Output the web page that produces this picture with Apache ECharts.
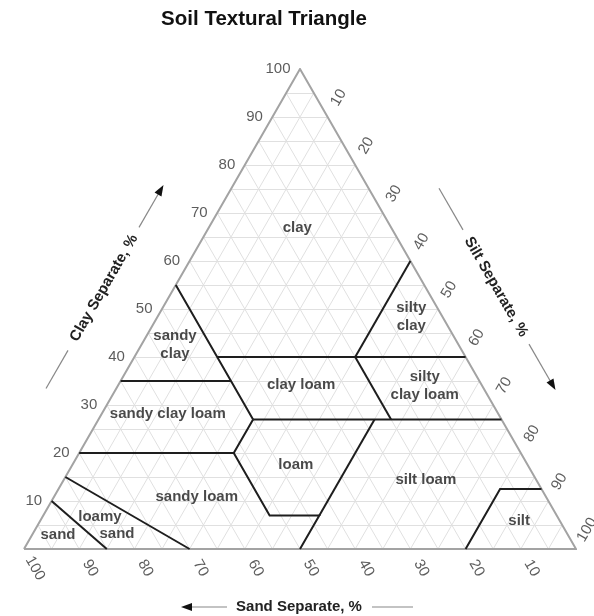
<!DOCTYPE html>
<html><head><meta charset="utf-8">
<script src="https://cdn.jsdelivr.net/npm/echarts@6/dist/echarts.min.js"></script>
<style>html,body{margin:0;padding:0;background:#fff}#c{width:594px;height:616px}</style>
</head><body><div id="c"></div>
<script>
// ---- data (ternary points are [sand, silt, clay] in %) ----
const chartTitle = 'Soil Textural Triangle';
const gridSteps = [5,10,15,20,25,30,35,40,45,50,55,60,65,70,75,80,85,90,95];
const clayTicks = [10,20,30,40,50,60,70,80,90,100];
const sandTicks = [100,90,80,70,60,50,40,30,20,10];
const siltTicks = [10,20,30,40,50,60,70,80,90,100];
const outline = [[100,0,0],[0,100,0],[0,0,100],[100,0,0]];
// texture class boundaries
const sandyClayEdge   = [[45,0,55],[45,20,35],[45,28,27]];
const clay40Edge      = [[45,15,40],[0,60,40]];
const siltyClayEdge   = [[0,40,60],[20,40,40]];
const sand20Edge      = [[20,40,40],[20,53,27]];
const clay35Edge      = [[65,0,35],[45,20,35]];
const clay27Edge      = [[45,28,27],[0,73,27]];
const sandyClayLoamLow= [[80,0,20],[52,28,20],[45,28,27]];
const loamLow         = [[52,28,20],[52,41,7],[43,50,7],[50,50,0]];
const loamRight       = [[23,50,27],[43,50,7]];
const siltEdge        = [[20,80,0],[8,80,12.5],[0,87.5,12.5]];
const sandEdge        = [[85,15,0],[90,0,10]];
const loamySandEdge   = [[70,30,0],[85,0,15]];
const boundaries = [sandyClayEdge, clay40Edge, siltyClayEdge, sand20Edge, clay35Edge,
  clay27Edge, sandyClayLoamLow, loamLow, loamRight, siltEdge, sandEdge, loamySandEdge];
// class names and their label anchor points
const regionNames = ['clay','silty\nclay','sandy\nclay','clay loam','silty\nclay loam',
  'sandy clay loam','loam','silt loam','sandy loam','loamy','sand','sand','silt'];
const regionPos = [[17,16,67],[5.7,46,48.3],[51.4,6.1,42.5],[32.7,33.1,34.2],[10.4,55.6,34],
  [59.9,12,28.1],[42,40.5,17.5],[20,65.6,14.4],[63.3,25.9,10.8],[82.9,10.4,6.7],[81.6,15.3,3.1],
  [92.4,4.7,2.9],[7.4,86.8,5.8]];

// ternary -> cartesian data space (x: 0..100, y = clay 0..100)
function toXY(p){ return [p[1] + p[2]/2, p[2]]; }

const gridLines = [];
gridSteps.forEach(k => {
  gridLines.push({coords:[toXY([100-k,0,k]), toXY([0,100-k,k])]});
  gridLines.push({coords:[toXY([k,100-k,0]), toXY([k,0,100-k])]});
  gridLines.push({coords:[toXY([100-k,k,0]), toXY([0,k,100-k])]});
});

const FONT = '"Liberation Sans", Arial, sans-serif';
const chart = echarts.init(document.getElementById('c'), null, {renderer:'canvas'});

const hidden = {type:'value', min:0, max:100, show:false};
const tickLabel = {color:'#333', fontFamily:FONT, fontSize:15};
chart.setOption({
  animation:false,
  backgroundColor:'#fff',
  grid:{left:24, top:69, width:552, height:480},
  xAxis:hidden, yAxis:hidden,
  series:[
    {type:'lines', coordinateSystem:'cartesian2d', silent:true, z:1,
      lineStyle:{color:'#e0e0e0', width:1, opacity:1}, data:gridLines},
    {type:'lines', coordinateSystem:'cartesian2d', silent:true, z:2, polyline:true,
      lineStyle:{color:'#a3a3a3', width:2, opacity:1}, data:[{coords:outline.map(toXY)}]},
    {type:'lines', coordinateSystem:'cartesian2d', silent:true, z:3, polyline:true,
      lineStyle:{color:'#1e1e1e', width:2, opacity:1},
      data:boundaries.map(b => ({coords:b.map(toXY)}))},
    // region labels
    {type:'scatter', silent:true, z:4, clip:false, symbolSize:1, itemStyle:{color:'rgba(0,0,0,0)'},
      data:regionPos.map((p,i) => toXY(p).concat([regionNames[i]])),
      label:{show:true, position:'inside', formatter:p => p.value[2], color:'#1c1c1c',
        fontFamily:FONT, fontWeight:'bold', fontSize:15, lineHeight:18, align:'center'}},
    // clay ticks (left edge)
    {type:'scatter', silent:true, z:4, clip:false, symbolSize:1, itemStyle:{color:'rgba(0,0,0,0)'},
      data:clayTicks.map(k => toXY([100-k,0,k]).concat([String(k)])),
      label:Object.assign({show:true, position:'left', distance:9, formatter:p => p.value[2]}, tickLabel)},
    // sand ticks (bottom edge, extended along constant-sand lines)
    {type:'scatter', silent:true, z:4, clip:false, symbolSize:1, itemStyle:{color:'rgba(0,0,0,0)'},
      data:sandTicks.map(k => toXY([k,100-k+4,-4]).concat([String(k)])),
      label:Object.assign({show:true, position:'inside', rotate:-60, formatter:p => p.value[2]}, tickLabel)},
    // silt ticks (right edge, extended along constant-silt lines)
    {type:'scatter', silent:true, z:4, clip:false, symbolSize:1, itemStyle:{color:'rgba(0,0,0,0)'},
      data:siltTicks.map(k => toXY([-4,k,100-k+4]).concat([String(k)])),
      label:Object.assign({show:true, position:'inside', rotate:60, formatter:p => p.value[2]}, tickLabel)}
  ],
  graphic:[
    {type:'text', x:264, y:19.5, style:{text:chartTitle, x:0, y:0, align:'center', verticalAlign:'middle',
      font:'bold 20.5px '+FONT, fill:'#111'}},
    {type:'group', x:104, y:288, rotation:Math.PI/3, children:[
      {type:'text', style:{text:'Clay Separate, %', x:0, y:0, align:'center', verticalAlign:'middle', font:'bold 15px '+FONT, fill:'#222'}},
      {type:'line', shape:{x1:-116, y1:0, x2:-72, y2:0}, style:{stroke:'#888', lineWidth:1.2}},
      {type:'line', shape:{x1:70, y1:0, x2:112, y2:0}, style:{stroke:'#888', lineWidth:1.2}},
      {type:'polygon', shape:{points:[[119,0],[108,-4],[108,4]]}, style:{fill:'#111'}}
    ]},
    {type:'group', x:496, y:287, rotation:-Math.PI/3, children:[
      {type:'text', style:{text:'Silt Separate, %', x:0, y:0, align:'center', verticalAlign:'middle', font:'bold 15px '+FONT, fill:'#222'}},
      {type:'line', shape:{x1:-114, y1:0, x2:-66, y2:0}, style:{stroke:'#888', lineWidth:1.2}},
      {type:'line', shape:{x1:66, y1:0, x2:112, y2:0}, style:{stroke:'#888', lineWidth:1.2}},
      {type:'polygon', shape:{points:[[119,0],[108,-4],[108,4]]}, style:{fill:'#111'}}
    ]},
    {type:'group', x:299, y:607, children:[
      {type:'text', style:{text:'Sand Separate, %', x:0, y:0, align:'center', verticalAlign:'middle', font:'bold 15px '+FONT, fill:'#222'}},
      {type:'line', shape:{x1:-110, y1:0, x2:-72, y2:0}, style:{stroke:'#888', lineWidth:1.2}},
      {type:'line', shape:{x1:73, y1:0, x2:114, y2:0}, style:{stroke:'#888', lineWidth:1.2}},
      {type:'polygon', shape:{points:[[-118,0],[-107,-4],[-107,4]]}, style:{fill:'#111'}}
    ]}
  ]
});
</script></body></html>
